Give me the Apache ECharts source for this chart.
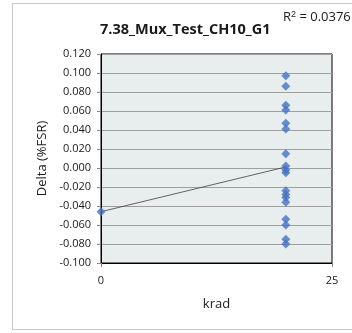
<!DOCTYPE html>
<html><head><meta charset="utf-8">
<script src="https://cdn.jsdelivr.net/npm/echarts@6/dist/echarts.min.js"></script>
<style>html,body{margin:0;padding:0;background:#fff}#c{width:352px;height:333px}</style>
</head><body><div id="c"></div>
<script>
const titleText = "7.38_Mux_Test_CH10_G1";
const r2Text = "0.0376";
const xName = "krad";
const yName = "Delta (%FSR)";
const xValues = [0, 20,20,20,20,20,20,20,20,20,20,20,20,20,20,20,20,20,20];
const yValues = [-0.046, 0.097,0.086,0.066,0.061,0.047,0.041,0.015,0.002,-0.002,-0.005,-0.024,-0.028,-0.031,-0.036,-0.054,-0.060,-0.075,-0.080];

const pts = xValues.map((x,i)=>[x,yValues[i]]);
// least-squares trendline from the data
const n = xValues.length;
const mx = xValues.reduce((a,b)=>a+b,0)/n, my = yValues.reduce((a,b)=>a+b,0)/n;
let sxy=0,sxx=0; for(let i=0;i<n;i++){sxy+=(xValues[i]-mx)*(yValues[i]-my);sxx+=(xValues[i]-mx)**2;}
const slope = sxy/sxx, icpt = my - slope*mx;
const xMin = Math.min(...xValues), xMax = Math.max(...xValues);
const trend = [[xMin, icpt+slope*xMin],[xMax, icpt+slope*xMax]];

const chart = echarts.init(document.getElementById('c'));
const font = 'Open Sans, Liberation Sans, sans-serif';
chart.setOption({
  animation:false,
  textStyle:{fontFamily:font},
  graphic:[
    {type:'rect',shape:{x:12.5,y:3.5,width:345,height:326},style:{fill:'none',stroke:'#c8c8c8',lineWidth:1},z:-10},
    {type:'text',left:100,top:22,style:{text:titleText,font:'bold 14.5px '+font,fill:'#1a1a1a'}},
    {type:'text',left:283,top:10,style:{text:'R{s|2} = '+r2Text,font:'13px '+font,fill:'#1a1a1a',rich:{s:{fontSize:9,verticalAlign:'top',padding:[0,0,6,0]}}}}
  ],
  grid:{left:101,right:20,top:54,bottom:70,show:true,backgroundColor:'#e8eded',borderColor:'#000',borderWidth:1},
  xAxis:{type:'value',min:0,max:25,interval:25,name:xName,nameLocation:'middle',nameGap:35,
    nameTextStyle:{fontSize:13,color:'#1a1a1a'},
    axisLine:{show:true,onZero:false,lineStyle:{color:'#000'}},axisTick:{show:true,length:4,lineStyle:{color:'#888'}},
    axisLabel:{fontSize:11,color:'#1a1a1a',margin:12},splitLine:{show:false}},
  yAxis:{type:'value',min:-0.1,max:0.12,interval:0.02,name:yName,nameLocation:'middle',nameGap:44,
    nameTextStyle:{fontSize:13,color:'#1a1a1a'},
    axisLine:{show:true,onZero:false,lineStyle:{color:'#000'}},axisTick:{show:true,length:4,lineStyle:{color:'#888'}},
    axisLabel:{fontSize:11,color:'#1a1a1a',margin:10,formatter:v=>v.toFixed(3)},
    splitLine:{show:true,lineStyle:{color:'#a0a0a0',width:1}}},
  series:[
    {type:'line',data:trend,symbol:'none',lineStyle:{color:'#404040',width:0.8},z:3},
    {type:'scatter',data:pts,symbol:'diamond',symbolSize:9,itemStyle:{color:'#4472c4'},z:4}
  ]
});
</script></body></html>
